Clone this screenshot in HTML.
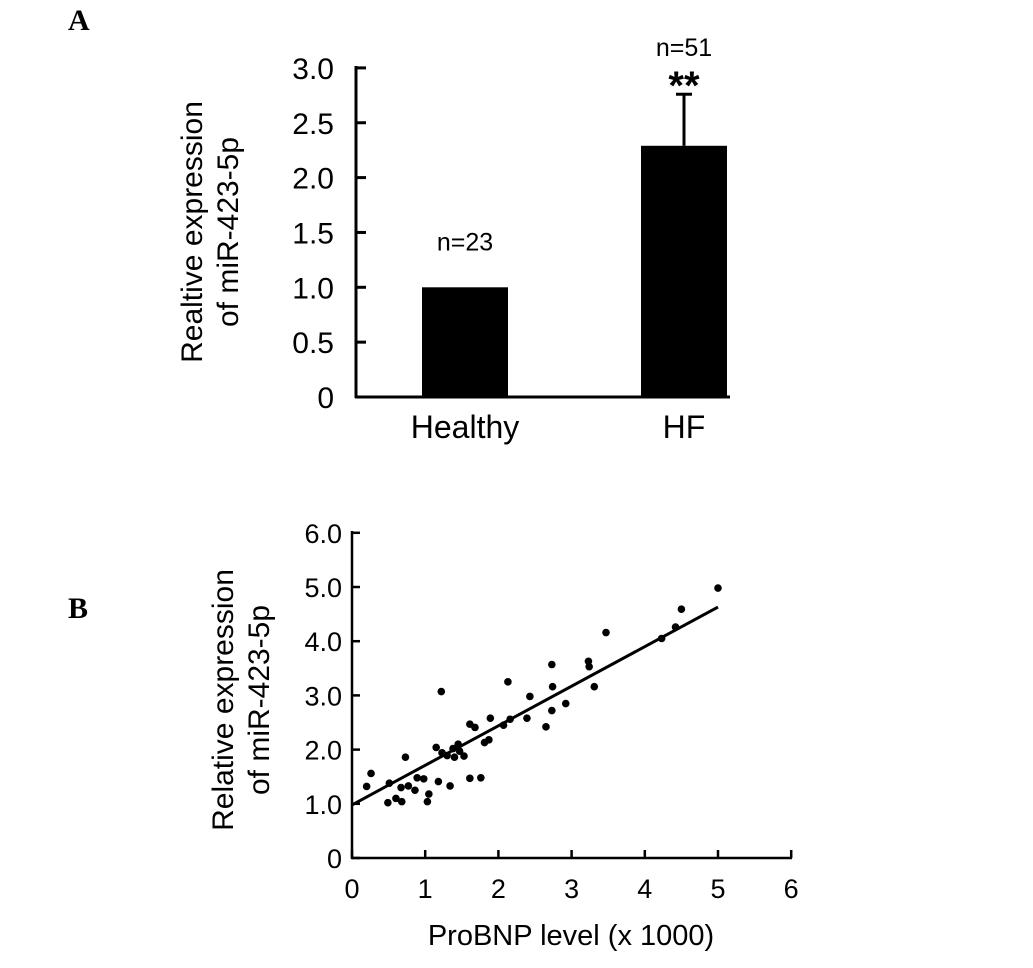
<!DOCTYPE html>
<html><head><meta charset="utf-8"><style>
body{margin:0;background:#fff;}
svg text{font-family:"Liberation Sans",sans-serif;fill:#000;}
</style></head><body>
<svg width="1033" height="963" viewBox="0 0 1033 963">
<text x="68" y="30" style="font-family:'Liberation Serif',serif;font-weight:bold;font-size:30px">A</text>
<text x="68" y="618" style="font-family:'Liberation Serif',serif;font-weight:bold;font-size:30px">B</text>
<g id="chartA"></g>
<g id="chartB"></g>
</svg>
<script>
const barCategories=["Healthy","HF"];
const barValues=[1.0,2.29];
const barErrors=[0,0.47];
const barNLabels=["n=23","n=51"];
const barTicks=[0,0.5,1.0,1.5,2.0,2.5,3.0];
const barTickLabels=["0","0.5","1.0","1.5","2.0","2.5","3.0"];
const scatterX=[0.20,0.26,0.49,0.51,0.60,0.67,0.68,0.73,0.77,0.86,0.89,0.98,1.03,1.05,1.15,1.18,1.22,1.23,1.30,1.34,1.38,1.40,1.45,1.47,1.53,1.61,1.61,1.68,1.76,1.81,1.87,1.89,2.07,2.13,2.16,2.39,2.43,2.65,2.73,2.73,2.74,2.92,3.23,3.24,3.31,3.47,4.23,4.42,4.50,5.00];
const scatterY=[1.32,1.56,1.02,1.38,1.10,1.30,1.04,1.86,1.33,1.25,1.48,1.46,1.04,1.18,2.04,1.41,3.07,1.94,1.89,1.33,2.02,1.86,2.10,1.97,1.88,2.47,1.47,2.41,1.48,2.13,2.18,2.58,2.45,3.25,2.56,2.58,2.98,2.42,2.72,3.57,3.16,2.85,3.63,3.53,3.16,4.16,4.05,4.26,4.59,4.98];
const fitIntercept=0.98;
const fitSlope=0.73;
const fitRange=[0,5];
const xTicksB=[0,1,2,3,4,5,6];
const xTickLabelsB=["0","1","2","3","4","5","6"];
const yTicksB=[0,1,2,3,4,5,6];
const yTickLabelsB=["0","1.0","2.0","3.0","4.0","5.0","6.0"];
const NS="http://www.w3.org/2000/svg";
function mk(p,t,a,txt){const e=document.createElementNS(NS,t);for(const k in a)e.setAttribute(k,a[k]);if(txt!==undefined)e.textContent=txt;p.appendChild(e);return e;}
const A=document.getElementById('chartA');
const ay=v=>397-v*109.7;
const barX=[465,684],barW=86;
let e;
e=mk(A,'line',{x1:356,y1:66,x2:356,y2:398,stroke:'#000','stroke-width':3});

e=mk(A,'line',{x1:355,y1:397,x2:730,y2:397,stroke:'#000','stroke-width':3});

barTicks.forEach((t,i)=>{
 e=mk(A,'line',{x1:356,y1:ay(t),x2:366,y2:ay(t),stroke:'#000','stroke-width':3});
 
 e=mk(A,'text',{x:334,y:ay(t)+11,'text-anchor':'end','font-size':30},barTickLabels[i]);
 
});
barCategories.forEach((c,i)=>{
 const cx=barX[i],v=barValues[i];
 if(barErrors[i]>0){
  e=mk(A,'line',{x1:cx,y1:ay(v),x2:cx,y2:ay(v+barErrors[i]),stroke:'#000','stroke-width':3});
  
  e=mk(A,'line',{x1:cx-8,y1:ay(v+barErrors[i]),x2:cx+8,y2:ay(v+barErrors[i]),stroke:'#000','stroke-width':3});
  
  e=mk(A,'text',{x:cx,y:ay(v+barErrors[i])+5,'text-anchor':'middle','font-size':40,'font-weight':'bold'},'**');
  
 }
 e=mk(A,'rect',{x:cx-barW/2,y:ay(v),width:barW,height:ay(0)-ay(v),fill:'#000'});
 
 const ny=barErrors[i]>0?ay(v+barErrors[i])-38:ay(v)-37;
 e=mk(A,'text',{x:cx,y:ny,'text-anchor':'middle','font-size':25},barNLabels[i]);
 
 e=mk(A,'text',{x:cx,y:438,'text-anchor':'middle','font-size':32},c);
 
});
e=mk(A,'text',{'text-anchor':'middle','font-size':30,transform:'translate(202,232) rotate(-90)'});

mk(e,'tspan',{x:0,y:0},'Realtive expression');mk(e,'tspan',{x:0,y:36},'of miR-423-5p');
const B=document.getElementById('chartB');
const bx=v=>352+v*73.2, by=v=>858-v*54.2;
e=mk(B,'line',{x1:352,y1:531,x2:352,y2:859,stroke:'#000','stroke-width':2.5});

e=mk(B,'line',{x1:351,y1:858,x2:792,y2:858,stroke:'#000','stroke-width':2.5});

yTicksB.forEach((t,i)=>{
 e=mk(B,'line',{x1:352,y1:by(t),x2:360,y2:by(t),stroke:'#000','stroke-width':2.5});
 
 e=mk(B,'text',{x:342,y:by(t)+10,'text-anchor':'end','font-size':27},yTickLabelsB[i]);
 
});
xTicksB.forEach((t,i)=>{
 e=mk(B,'line',{x1:bx(t),y1:858,x2:bx(t),y2:850,stroke:'#000','stroke-width':2.5});
 
 e=mk(B,'text',{x:bx(t),y:898,'text-anchor':'middle','font-size':27},xTickLabelsB[i]);
 
});
e=mk(B,'line',{x1:bx(fitRange[0]),y1:by(fitIntercept+fitSlope*fitRange[0]),x2:bx(fitRange[1]),y2:by(fitIntercept+fitSlope*fitRange[1]),stroke:'#000','stroke-width':3});

scatterX.forEach((x,i)=>{
 e=mk(B,'circle',{cx:bx(x),cy:by(scatterY[i]),r:3.8,fill:'#000'});
 
});
e=mk(B,'text',{x:571,y:945,'text-anchor':'middle','font-size':29},'ProBNP level (x 1000)');

e=mk(B,'text',{'text-anchor':'middle','font-size':30,transform:'translate(233,700) rotate(-90)'});

mk(e,'tspan',{x:0,y:0},'Relative expression');mk(e,'tspan',{x:0,y:36},'of miR-423-5p');
</script>
</body></html>
